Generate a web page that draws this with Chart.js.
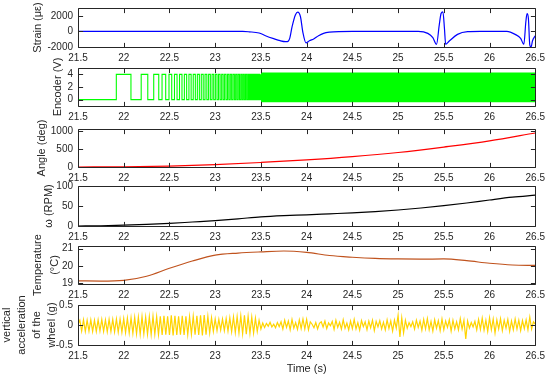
<!DOCTYPE html>
<html>
<head>
<meta charset="utf-8">
<script src="https://cdn.jsdelivr.net/npm/chart.js@4.4.1/dist/chart.umd.min.js"></script>
<style>
  html, body { margin: 0; padding: 0; background: #fff; }
  #wrap { position: relative; width: 550px; height: 378px; overflow: hidden; }
  #wrap canvas { position: absolute; left: 0; }
</style>
</head>
<body>
<div id="wrap"></div>
<script>
// time axis
const timeTicks = [21.5, 22, 22.5, 23, 23.5, 24, 24.5, 25, 25.5, 26, 26.5];

// strain (micro-strain)
const strainT = [21.5, 22.5, 23.3, 23.37, 23.48, 23.55, 23.64, 23.71, 23.77, 23.79, 23.815, 23.841, 23.878, 23.903, 23.932, 23.96, 23.993,
  24.03, 24.077, 24.13, 24.185, 24.25, 24.35, 24.5, 25.0, 25.22, 25.325, 25.38, 25.42, 25.45, 25.47, 25.49, 25.507, 25.52, 25.56, 25.65, 25.76, 25.9,
  26.19, 26.28, 26.34, 26.375, 26.397, 26.41, 26.425, 26.44, 26.454, 26.47, 26.5];
const strainV = [0, 0, 0, -50, -200, -550, -930, -1190, -1310, -1310, -900, 600, 2130, 2470, 1910, -200, -1480,
  -1200, -970, -550, -250, -100, -20, 0, 0, 0, -250, -800, -1660, 810, 2290, 2510, 380, -1660, -1230, -380, -40, 0,
  0, -380, -890, -1660, 1240, 2290, 1660, -1730, -2000, -1200, -550];

// encoder square wave: edge times (first edge is a rise), then a dense band
const encoderHigh = 4;
const encoderLow = 0;
const encoderEdges = [21.919, 22.079, 22.191, 22.263, 22.328, 22.383, 22.419, 22.459, 22.495,
  22.525, 22.555, 22.583, 22.61, 22.637, 22.663, 22.688, 22.713, 22.737, 22.76, 22.783, 22.805, 22.827, 22.848,
  22.869, 22.889, 22.909, 22.928, 22.947, 22.966, 22.984, 23.002, 23.02, 23.037, 23.054, 23.071, 23.087, 23.103,
  23.119, 23.135, 23.15, 23.165, 23.18, 23.195, 23.21, 23.224, 23.238, 23.252, 23.266, 23.28, 23.293, 23.306,
  23.319, 23.332, 23.345, 23.358, 23.37, 23.382, 23.394, 23.406, 23.418, 23.43, 23.441, 23.452, 23.463, 23.474,
  23.485, 23.496];
const encoderBandStart = 23.5;
const encoderBandTop = 4.3;
const encoderBandBottom = -0.4;

// angle (deg)
const angleT = [21.5, 22, 22.5, 23, 23.5, 24, 24.5, 25, 25.5, 26, 26.5];
const angleV = [0, 5, 25, 65, 125, 195, 285, 400, 550, 720, 940];

// omega (RPM)
const omegaT = [21.5, 21.75, 22, 22.25, 22.5, 22.75, 23, 23.25, 23.5, 23.75, 24, 24.25, 24.5, 24.75, 25, 25.25, 25.5, 25.75, 26, 26.25, 26.5];
const omegaV = [0, 0.5, 2, 4, 6.5, 10, 13.5, 18, 23, 26, 28, 30.5, 33, 36, 40, 45, 51, 57.5, 65, 72, 77];

// temperature (deg C)
const tempT = [21.5, 21.75, 22, 22.25, 22.5, 22.75, 23, 23.25, 23.5, 23.75, 24, 24.25, 24.5, 24.75, 25, 25.25, 25.5, 25.75, 26, 26.25, 26.5];
const tempV = [19.13, 19.12, 19.16, 19.4, 19.86, 20.28, 20.62, 20.74, 20.81, 20.86, 20.78, 20.6, 20.5, 20.43, 20.4, 20.39, 20.4, 20.3, 20.15, 20.05, 20.03];

// vertical acceleration of the wheel (g), sampled every 0.02 s from 21.5 s
const accelStart = 21.5;
const accelStep = 0.02;
const accelV = [
  0.02, 0.12, -0.15, 0.13, -0.16, 0.12, -0.15, 0.13, -0.16, 0.12, -0.16, 0.13, -0.15, 0.14, -0.16, 0.13, -0.17, 0.14, -0.16, 0.14, -0.17, 0.15, -0.18, 0.15, -0.18,
  0.16, -0.19, 0.17, -0.2, 0.18, -0.21, 0.19, -0.22, 0.2, -0.23, 0.21, -0.22, 0.2, -0.23, 0.21, -0.24, 0.22, -0.23, 0.21, -0.24, 0.22, -0.25, 0.23, -0.24, 0.22,
  -0.25, 0.24, -0.26, 0.23, -0.25, 0.22, -0.24, 0.23, -0.25, 0.22, -0.24, 0.21, -0.23, 0.22, -0.24, 0.23, -0.25, 0.24, -0.26, 0.25, -0.24, 0.22, -0.2,
  0.18, -0.16, 0.15, -0.14, 0.14, -0.13, 0.15, -0.14, 0.16, -0.15,
  0.18, -0.17, 0.2, -0.19, 0.21, -0.2, 0.23, -0.22, 0.24, -0.23, 0.22, -0.21, 0.2, -0.2, 0.17, -0.16, 0.12, -0.1,
  0.05, -0.06, 0.04, -0.03, 0.07, -0.05, 0.02, -0.07, 0.06, -0.04,
  0.08, -0.1, 0.12, -0.06, 0.1, -0.12, 0.14, -0.08, 0.06, -0.11, 0.13, -0.09, 0.15, -0.1,
  0.14, -0.12, 0.08, 0.02, -0.07, 0.06, -0.1, 0.04, 0.08, -0.05, 0.1, -0.09, 0.05, -0.02, 0.09, -0.11, 0.12, -0.06, 0.07, -0.1, 0.13, -0.08, 0.05, -0.12, 0.1,
  -0.09, 0.14, -0.1, 0.06, -0.13, 0.11, -0.04, 0.08, -0.12, 0.1, -0.07, 0.12, -0.14, 0.09, -0.05, 0.11, -0.1, 0.07, -0.12, 0.13, -0.09, 0.1, -0.15, 0.12, -0.08,
  0.24, -0.3, 0.18, -0.2, 0.12, -0.08, 0.06, -0.04, 0.08, -0.1, 0.12, -0.06, 0.1, -0.13, 0.14, -0.1, 0.16, -0.12, 0.09, -0.15, 0.13, -0.08, 0.11, -0.14, 0.15,
  -0.12, 0.1, -0.06, 0.13, -0.15, 0.12, -0.1, 0.08, -0.12, 0.16, -0.1, 0.12, -0.35, 0.1, -0.08, 0.06, -0.05, 0.09, -0.12, 0.14, -0.11, 0.17, -0.13, 0.12, -0.16,
  0.18, -0.12, 0.15, -0.2, 0.13, -0.1, 0.16, -0.14, 0.12, -0.08, 0.14, -0.16, 0.1, -0.12, 0.15, -0.1, 0.12, -0.14, 0.11, -0.09, 0.13, -0.12, 0.2, -0.1, 0.08, 0.02
];

const textColor = '#262626';
const tickFont = { family: "'Liberation Sans', Arial, Helvetica, sans-serif", size: 10 };
const titleFont = { family: "'Liberation Sans', Arial, Helvetica, sans-serif", size: 11 };

const pts = (ts, vs) => ts.map((t, i) => ({ x: t, y: vs[i] }));

// box around the plot with inward tick marks, like the original
const frame = {
  id: 'frame',
  afterDatasetsDraw(chart) {
    const { ctx, chartArea: a, scales: { x, y } } = chart;
    const L = Math.round(a.left) + 0.5, R = Math.round(a.right) + 0.5;
    const T = Math.round(a.top) + 0.5, B = Math.round(a.bottom) + 0.5;
    const tl = 4.6;
    ctx.save();
    ctx.strokeStyle = textColor;
    ctx.lineWidth = 1;
    ctx.beginPath();
    ctx.rect(L, T, R - L, B - T);
    x.ticks.forEach(t => {
      const px = Math.round(x.getPixelForValue(t.value)) + 0.5;
      ctx.moveTo(px, B); ctx.lineTo(px, B - tl);
      ctx.moveTo(px, T); ctx.lineTo(px, T + tl);
    });
    y.ticks.forEach(t => {
      const py = Math.round(y.getPixelForValue(t.value)) + 0.5;
      ctx.moveTo(L, py); ctx.lineTo(L + tl, py);
      ctx.moveTo(R, py); ctx.lineTo(R - tl, py);
    });
    ctx.stroke();
    ctx.restore();
  }
};

const wrap = document.getElementById('wrap');

function panel(cfg) {
  const padTop = 16;
  const xh = cfg.xTitle ? 34 : 20;
  const cv = document.createElement('canvas');
  cv.width = 550;
  cv.height = padTop + (cfg.bottom - cfg.top) + xh;
  cv.style.top = (cfg.top - padTop) + 'px';
  wrap.appendChild(cv);

  new Chart(cv, {
    type: 'line',
    data: { datasets: cfg.datasets },
    options: {
      responsive: false,
      animation: false,
      devicePixelRatio: 1,
      layout: { padding: { top: padTop, right: 12, left: 0, bottom: 0 } },
      plugins: { legend: { display: false }, tooltip: { enabled: false } },
      elements: { point: { radius: 0 }, line: { borderWidth: 1.2 } },
      scales: {
        x: {
          type: 'linear', min: 21.5, max: 26.5,
          grid: { display: false, drawTicks: false },
          border: { display: false },
          afterBuildTicks: s => { s.ticks = timeTicks.map(v => ({ value: v })); },
          afterFit: s => { s.height = xh; },
          ticks: { padding: 5, color: textColor, font: tickFont, maxRotation: 0, autoSkip: false, callback: v => String(v) },
          title: cfg.xTitle
            ? { display: true, text: cfg.xTitle, color: textColor, font: titleFont, padding: { top: 0, bottom: 3 } }
            : { display: false }
        },
        y: {
          type: 'linear', min: cfg.yMin, max: cfg.yMax,
          grid: { display: false, drawTicks: false },
          border: { display: false },
          afterBuildTicks: s => { s.ticks = cfg.yTicks.map(v => ({ value: v })); },
          afterFit: s => { s.width = 78; },
          ticks: { padding: 5, color: textColor, font: tickFont, autoSkip: false, callback: v => String(v) },
          title: {
            display: true, text: cfg.title, color: textColor,
            font: Object.assign({}, titleFont, { lineHeight: cfg.titleLH || 1.2 }),
            padding: { top: cfg.titlePad, bottom: 0 }
          }
        }
      }
    },
    plugins: [frame]
  });
}

// Strain
panel({
  top: 8, bottom: 47, yMin: -2000, yMax: 3000, yTicks: [-2000, 0, 2000],
  title: 'Strain (με)', titlePad: 31,
  datasets: [{ data: pts(strainT, strainV), borderColor: '#0000FF', cubicInterpolationMode: 'monotone' }]
});

// Encoder
const encoderPts = [{ x: 21.5, y: encoderLow }].concat(
  encoderEdges.map((t, i) => ({ x: t, y: i % 2 === 0 ? encoderHigh : encoderLow })));
panel({
  top: 68, bottom: 106, yMin: -1, yMax: 5, yTicks: [0, 2, 4],
  title: 'Encoder (V)', titlePad: 51.5,
  datasets: [
    { data: encoderPts, borderColor: '#00FF00', borderWidth: 1.1, stepped: true },
    { data: [{ x: encoderBandStart, y: encoderBandTop }, { x: 26.5, y: encoderBandTop }],
      borderWidth: 0, borderColor: '#00FF00', backgroundColor: '#00FF00', fill: { value: encoderBandBottom } }
  ]
});

// Angle
panel({
  top: 129, bottom: 167, yMin: 0, yMax: 1050, yTicks: [0, 500, 1000],
  title: 'Angle (deg)', titlePad: 35.5,
  datasets: [{ data: pts(angleT, angleV), borderColor: '#FF0000', cubicInterpolationMode: 'monotone' }]
});

// Omega
panel({
  top: 186, bottom: 226, yMin: 0, yMax: 100, yTicks: [0, 50, 100],
  title: 'ω (RPM)', titlePad: 42.5,
  datasets: [{ data: pts(omegaT, omegaV), borderColor: '#000000', cubicInterpolationMode: 'monotone' }]
});

// Temperature
panel({
  top: 246, bottom: 284, yMin: 18.95, yMax: 21.15, yTicks: [19, 20, 21],
  title: ['Temperature', '(°C)'], titlePad: 29.5, titleLH: 1.55,
  datasets: [{ data: pts(tempT, tempV), borderColor: '#C0531E', cubicInterpolationMode: 'monotone' }]
});

// Vertical acceleration
panel({
  top: 305, bottom: 345, yMin: -0.5, yMax: 0.5, yTicks: [-0.5, 0, 0.5],
  title: ['vertical', 'acceleration', 'of the', 'wheel (g)'], titlePad: 0, titleLH: 1.34,
  xTitle: 'Time (s)',
  datasets: [{ data: accelV.map((v, i) => ({ x: accelStart + i * accelStep, y: v })), borderColor: '#FFD400', tension: 0 }]
});
</script>
</body>
</html>
